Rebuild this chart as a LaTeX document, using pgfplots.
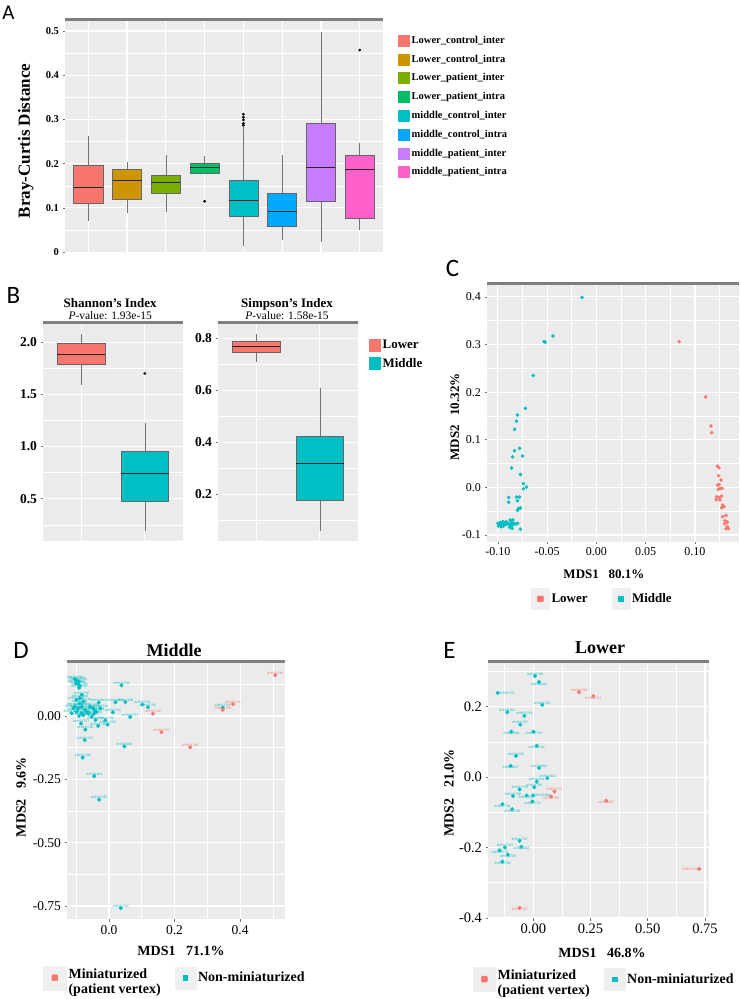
\documentclass[border=0pt]{standalone}
\usepackage{pgfplots}
\pgfplotsset{compat=1.18}
\usepgfplotslibrary{statistics}
\usepackage{fontspec}
\setmainfont{Liberation Serif}
\newfontfamily\panelfont{Carlito}
\newfontfamily\labfont{Liberation Sans}
\newcommand{\fs}[1]{\fontsize{#1}{#1}\selectfont}
\definecolor{panelgray}{HTML}{EBEBEB}
\definecolor{stripgray}{HTML}{7F7F7F}
\definecolor{keygray}{HTML}{EFEFEF}
\definecolor{c1}{HTML}{F8766D}
\definecolor{c2}{HTML}{CD9600}
\definecolor{c3}{HTML}{7CAE00}
\definecolor{c4}{HTML}{00BE67}
\definecolor{c5}{HTML}{00BFC4}
\definecolor{c6}{HTML}{00A9FF}
\definecolor{c7}{HTML}{C77CFF}
\definecolor{c8}{HTML}{FF61CC}
\definecolor{ggred}{HTML}{F8766D}
\definecolor{ggcyan}{HTML}{00BFC4}
\pgfplotsset{
  gg/.style={
    scale only axis,
    axis background/.style={fill=panelgray},
    grid=both,
    major grid style={white, line width=1.1pt},
    minor grid style={white, line width=0.55pt},
    axis line style={draw=none},
    tick align=outside,
    major tick length=2.5pt,
    minor tick length=0pt,
    tick style={black!55, line width=0.6pt},
    xtick pos=left, ytick pos=left,
    boxplot/draw direction=y,
    boxplot/box extend=0.75,
    boxplot/whisker extend=0,
    boxplot/every median/.style={black!85, line width=1pt},
    boxplot/every whisker/.style={black!55, line width=0.6pt},
    boxplot/every box/.style={draw=black!60, line width=0.6pt},
  },
  pts/.style={only marks, mark=*, mark size=#1},
  lab/.style={nodes near coords, point meta=explicit symbolic,
    every node near coord/.append style={font=\labfont\fs{3.3}, inner sep=0.6pt, text=#1}},
}
\begin{document}
\begin{tikzpicture}
\path[use as bounding box] (0pt,0pt) rectangle (740pt,-999pt);

% ---------------- Panel A ----------------
\begin{axis}[gg, name=A, at={(65pt,-21pt)}, anchor=north west, width=318pt, height=232pt,
  xmin=0.4, xmax=8.6, ymin=-0.002, ymax=0.5226,
  xtick={1,2,3,4,5,6,7,8}, xticklabels={}, xtick style={draw=none},
  ytick={0,0.1,0.2,0.3,0.4,0.5}, yticklabels={0,0.1,0.2,0.3,0.4,0.5},
  minor ytick={0.05,0.15,0.25,0.35,0.45},
  yticklabel style={font=\bfseries\fs{10.5}},
  ylabel={Bray-Curtis Distance},
  ylabel style={font=\bfseries\fs{17}, at={(axis description cs:-0.123,0.483)}, anchor=center},
  legend style={at={(1.038,0.953)}, anchor=north west, draw=none, fill=none,
    font=\bfseries\fs{10.5}, row sep=6pt, cells={anchor=west}},
  legend cell align=left,
]
\addplot[forget plot, fill=c1, draw=black!60, boxplot prepared={draw position=1, lower whisker=0.071, lower quartile=0.111, median=0.145, upper quartile=0.196, upper whisker=0.263}] coordinates {};
\addplot[forget plot, fill=c2, draw=black!60, boxplot prepared={draw position=2, lower whisker=0.089, lower quartile=0.120, median=0.162, upper quartile=0.188, upper whisker=0.204}] coordinates {};
\addplot[forget plot, fill=c3, draw=black!60, boxplot prepared={draw position=3, lower whisker=0.090, lower quartile=0.134, median=0.158, upper quartile=0.174, upper whisker=0.219}] coordinates {};
\addplot[forget plot, fill=c4, draw=black!60, mark=*, mark size=1.2pt, mark options={fill=black, draw=black}, boxplot prepared={draw position=4, lower whisker=0.179, lower quartile=0.179, median=0.192, upper quartile=0.200, upper whisker=0.217}] table[row sep=\\, y index=0] {0.115\\};
\addplot[forget plot, fill=c5, draw=black!60, mark=*, mark size=1.2pt, mark options={fill=black, draw=black}, boxplot prepared={draw position=5, lower whisker=0.013, lower quartile=0.080, median=0.117, upper quartile=0.162, upper whisker=0.283}] table[row sep=\\, y index=0] {0.287\\0.291\\0.299\\0.305\\0.312\\};
\addplot[forget plot, fill=c6, draw=black!60, boxplot prepared={draw position=6, lower whisker=0.028, lower quartile=0.059, median=0.092, upper quartile=0.134, upper whisker=0.220}] coordinates {};
\addplot[forget plot, fill=c7, draw=black!60, boxplot prepared={draw position=7, lower whisker=0.022, lower quartile=0.114, median=0.192, upper quartile=0.292, upper whisker=0.497}] coordinates {};
\addplot[forget plot, fill=c8, draw=black!60, mark=*, mark size=1.2pt, mark options={fill=black, draw=black}, boxplot prepared={draw position=8, lower whisker=0.051, lower quartile=0.077, median=0.186, upper quartile=0.220, upper whisker=0.247}] table[row sep=\\, y index=0] {0.457\\};
\addlegendimage{legend image code/.code={\fill[c1] (0pt,-5.5pt) rectangle (11pt,5.5pt);}}
\addlegendentry{Lower\_control\_inter}
\addlegendimage{legend image code/.code={\fill[c2] (0pt,-5.5pt) rectangle (11pt,5.5pt);}}
\addlegendentry{Lower\_control\_intra}
\addlegendimage{legend image code/.code={\fill[c3] (0pt,-5.5pt) rectangle (11pt,5.5pt);}}
\addlegendentry{Lower\_patient\_inter}
\addlegendimage{legend image code/.code={\fill[c4] (0pt,-5.5pt) rectangle (11pt,5.5pt);}}
\addlegendentry{Lower\_patient\_intra}
\addlegendimage{legend image code/.code={\fill[c5] (0pt,-5.5pt) rectangle (11pt,5.5pt);}}
\addlegendentry{middle\_control\_inter}
\addlegendimage{legend image code/.code={\fill[c6] (0pt,-5.5pt) rectangle (11pt,5.5pt);}}
\addlegendentry{middle\_control\_intra}
\addlegendimage{legend image code/.code={\fill[c7] (0pt,-5.5pt) rectangle (11pt,5.5pt);}}
\addlegendentry{middle\_patient\_inter}
\addlegendimage{legend image code/.code={\fill[c8] (0pt,-5.5pt) rectangle (11pt,5.5pt);}}
\addlegendentry{middle\_patient\_intra}
\end{axis}
\draw[stripgray, line width=3pt] ([yshift=1.5pt]A.north west) -- ([yshift=1.5pt]A.north east);

% ---------------- Panel B (Shannon) ----------------
\begin{axis}[gg, name=B1, at={(43pt,-324pt)}, anchor=north west, width=140pt, height=217pt,
  xmin=0.4, xmax=2.6, ymin=0.096, ymax=2.173,
  xtick={1,2}, xticklabels={}, xtick style={draw=none},
  ytick={0.5,1,1.5,2}, yticklabels={0.5,1.0,1.5,2.0},
  minor ytick={0.25,0.75,1.25,1.75},
  yticklabel style={font=\bfseries\fs{13.5}},
  title={{\bfseries\fontsize{13}{14}\selectfont Shannon\symbol{39}s Index}\\{\fontsize{11.5}{13}\selectfont\textit{P}-value: 1.93e-15}},
  title style={align=center, at={(axis description cs:0.48,1.069)}, anchor=center, yshift=-6pt},
]
\addplot[fill=ggred, draw=black!60, boxplot prepared={draw position=1, lower whisker=1.59, lower quartile=1.79, median=1.885, upper quartile=1.99, upper whisker=2.074}] coordinates {};
\addplot[fill=ggcyan, draw=black!60, mark=*, mark size=1.3pt, mark options={fill=black!85, draw=black!85}, boxplot prepared={draw position=2, lower whisker=0.195, lower quartile=0.48, median=0.74, upper quartile=0.95, upper whisker=1.228}] table[row sep=\\, y index=0] {1.70\\};
\end{axis}
\draw[stripgray, line width=3pt] ([yshift=1.5pt]B1.north west) -- ([yshift=1.5pt]B1.north east);

% ---------------- Panel B (Simpson) ----------------
\begin{axis}[gg, name=B2, at={(218pt,-324pt)}, anchor=north west, width=140pt, height=217pt,
  xmin=0.4, xmax=2.6, ymin=0.020, ymax=0.855,
  xtick={1,2}, xticklabels={}, xtick style={draw=none},
  ytick={0.2,0.4,0.6,0.8}, yticklabels={0.2,0.4,0.6,0.8},
  minor ytick={0.1,0.3,0.5,0.7},
  yticklabel style={font=\bfseries\fs{13.5}},
  title={{\bfseries\fontsize{13}{14}\selectfont Simpson\symbol{39}s Index}\\{\fontsize{11.5}{13}\selectfont\textit{P}-value: 1.58e-15}},
  title style={align=center, at={(axis description cs:0.493,1.069)}, anchor=center, yshift=-6pt},
  legend style={at={(1.057,0.945)}, anchor=north west, draw=none, fill=none,
    font=\bfseries\fs{13}, row sep=4pt, cells={anchor=west}},
  legend cell align=left,
]
\addplot[forget plot, fill=ggred, draw=black!60, boxplot prepared={draw position=1, lower whisker=0.710, lower quartile=0.745, median=0.770, upper quartile=0.787, upper whisker=0.815}] coordinates {};
\addplot[forget plot, fill=ggcyan, draw=black!60, boxplot prepared={draw position=2, lower whisker=0.06, lower quartile=0.178, median=0.319, upper quartile=0.424, upper whisker=0.609}] coordinates {};
\addlegendimage{legend image code/.code={\fill[ggred] (0pt,-6pt) rectangle (11pt,6pt);}}
\addlegendentry{Lower}
\addlegendimage{legend image code/.code={\fill[ggcyan] (0pt,-6pt) rectangle (11pt,6pt);}}
\addlegendentry{Middle}
\end{axis}
\draw[stripgray, line width=3pt] ([yshift=1.5pt]B2.north west) -- ([yshift=1.5pt]B2.north east);

% ---------------- Panel C ----------------
\begin{axis}[gg, name=C, at={(487pt,-285pt)}, anchor=north west, width=252pt, height=256.7pt,
  xmin=-0.111, xmax=0.1447, ymin=-0.114, ymax=0.425,
  xtick={-0.1,-0.05,0,0.05,0.1}, xticklabels={-0.10,-0.05,0.00,0.05,0.10},
  minor xtick={-0.075,-0.025,0.025,0.075,0.125},
  ytick={-0.1,0,0.1,0.2,0.3,0.4}, yticklabels={-0.1,0.0,0.1,0.2,0.3,0.4},
  minor ytick={-0.05,0.05,0.15,0.25,0.35},
  ticklabel style={font=\fs{12}},
  xlabel={MDS1~~~80.1\%}, ylabel={MDS2~~~10.32\%},
  xlabel style={font=\bfseries\fs{13}, at={(axis description cs:0.464,-0.126)}, anchor=center},
  ylabel style={font=\bfseries\fs{13}, at={(axis description cs:-0.127,0.486)}, anchor=center},
  legend columns=2,
  legend style={at={(0.458,-0.223)}, anchor=center, draw=none, fill=none,
    font=\bfseries\fs{13}, /tikz/every even column/.append style={column sep=22pt}},
]
\addplot[forget plot, pts=1.6pt, ggcyan] coordinates {
(-0.0146,0.399) (-0.044,0.318) (-0.053,0.306) (-0.052,0.305) (-0.064,0.235)
(-0.072,0.166) (-0.080,0.152) (-0.081,0.139) (-0.083,0.122) (-0.083,0.077)
(-0.078,0.082) (-0.085,0.064) (-0.075,0.066) (-0.086,0.041) (-0.077,0.027)
(-0.074,0.008) (-0.071,0.001) (-0.074,-0.003) (-0.089,-0.021) (-0.089,-0.031)
(-0.081,-0.020) (-0.078,-0.020) (-0.080,-0.028) (-0.079,-0.044) (-0.077,-0.043)
(-0.080,-0.048) (-0.077,-0.088)
(-0.100,-0.0755) (-0.098,-0.079) (-0.0976,-0.0734) (-0.0956,-0.0769) (-0.0942,-0.0811)
(-0.0932,-0.0741) (-0.0915,-0.0776) (-0.0966,-0.0825) (-0.0993,-0.0811) (-0.0898,-0.0755)
(-0.0881,-0.079) (-0.0864,-0.0741) (-0.0854,-0.0797) (-0.0841,-0.0755) (-0.082,-0.0769)
(-0.0881,-0.0839) (-0.0854,-0.086) (-0.0915,-0.072) (-0.0949,-0.072) (-0.080,-0.0755)
(-0.0847,-0.0685) (-0.0875,-0.0685)
};
\addplot[forget plot, pts=1.6pt, ggred] coordinates {
(0.084,0.306) (0.111,0.190) (0.1163,0.129) (0.117,0.115) (0.1227,0.0448)
(0.1244,0.0413) (0.124,0.0245) (0.1264,0.0154) (0.1244,0.0063) (0.123,0.0049)
(0.1254,-0.0021) (0.1275,-0.0021) (0.1237,-0.0042) (0.122,-0.0196) (0.1247,-0.021)
(0.1271,-0.0182) (0.1217,-0.0259) (0.1254,-0.0266) (0.1281,-0.0371) (0.1295,-0.0406)
(0.1271,-0.0427) (0.1281,-0.0615) (0.1315,-0.0587) (0.1305,-0.0699) (0.1329,-0.0727)
(0.1302,-0.0762) (0.1329,-0.0825) (0.1315,-0.0867) (0.1339,-0.0867)
};
\addlegendimage{legend image code/.code={\fill[keygray] (0pt,-10.5pt) rectangle (18pt,10.5pt); \fill[ggred, rounded corners=0.8pt] (6pt,-3pt) rectangle (12pt,3pt);}}
\addlegendentry{Lower}
\addlegendimage{legend image code/.code={\fill[keygray] (0pt,-10.5pt) rectangle (18pt,10.5pt); \fill[ggcyan] (6.5pt,-2.5pt) rectangle (11.5pt,2.5pt);}}
\addlegendentry{Middle}
\end{axis}
\draw[stripgray, line width=3pt] ([yshift=1.5pt]C.north west) -- ([yshift=1.5pt]C.north east);

% ---------------- Panel D ----------------
\begin{axis}[gg, name=D, at={(67pt,-663pt)}, anchor=north west, width=218pt, height=256.3pt,
  xmin=-0.128, xmax=0.537, ymin=-0.8025, ymax=0.209,
  xtick={0,0.2,0.4}, xticklabels={0.0,0.2,0.4},
  minor xtick={-0.1,0.1,0.3,0.5},
  ytick={-0.75,-0.5,-0.25,0}, yticklabels={-0.75,-0.50,-0.25,0.00},
  minor ytick={-0.625,-0.375,-0.125,0.125},
  ticklabel style={font=\fs{13.5}},
  title={Middle}, title style={font=\bfseries\fs{18}, at={(axis description cs:0.491,1.051)}, anchor=center, yshift=-6pt},
  xlabel={MDS1~~~71.1\%}, ylabel={MDS2~~~9.6\%},
  xlabel style={font=\bfseries\fs{14}, at={(axis description cs:0.523,-0.124)}, anchor=center},
  ylabel style={font=\bfseries\fs{14}, at={(axis description cs:-0.211,0.477)}, anchor=center},
  legend columns=2,
  legend style={at={(0.495,-0.228)}, anchor=center, draw=none, fill=none,
    font=\bfseries\fontsize{14}{15}\selectfont, /tikz/every even column/.append style={column sep=12pt}},
]
\addplot[forget plot, pts=1.8pt, ggcyan, lab=ggcyan, every node near coord/.append style={anchor=south}] table[meta=l] {
x y l
0.347 0.033 AHH21755
0.038 0.121 AHH21783
0.036 -0.758 AHH21794
-0.030 -0.330 AHH21785
-0.045 -0.238 AHH21801
-0.080 -0.164 AHH21788
-0.074 -0.095 AHH21733
0.047 -0.120 AHH21800
0.065 -0.004 AHH21722
0.102 0.045 AHH21751
0.119 0.034 AHH21758
0.050 0.055 AHH21806
0.020 0.054 AHH21804
0.012 0.014 AHH21752
-0.004 -0.034 AHH21753
-0.011 -0.017 AHH21729
-0.033 -0.039 AHH21736
-0.031 0.053 AHH21813
-0.027 0.029 AHH21745
-0.072 -0.054 AHH21792
-0.085 -0.030 AHH21757
-0.104 0.145 AHH21701
-0.097 0.139 AHH21702
-0.091 0.136 AHH21703
-0.101 0.129 AHH21704
-0.094 0.126 AHH21705
-0.089 0.118 AHH21706
-0.091 0.111 AHH21750
-0.083 0.083 AHH21707
-0.089 0.070 AHH21708
-0.099 0.063 AHH21709
-0.078 0.057 AHH21710
-0.089 0.050 AHH21711
-0.083 0.037 AHH21712
-0.104 0.037 AHH21713
-0.094 0.030 AHH21714
-0.099 0.017 AHH21715
-0.073 0.024 AHH21716
-0.068 0.017 AHH21717
-0.083 0.011 AHH21718
-0.063 0.008 AHH21719
-0.058 0.037 AHH21720
-0.048 0.030 AHH21721
-0.043 0.021 AHH21723
-0.038 0.017 AHH21724
-0.109 0.030 AHH21725
-0.114 0.011 AHH21726
-0.091 0.000 AHH21727
-0.078 0.003 AHH21728
-0.053 -0.003 AHH21731
-0.041 -0.016 AHH21732
-0.046 0.008 AHH21734
};
\addplot[forget plot, pts=1.8pt, ggred, lab=ggred, every node near coord/.append style={anchor=south}] table[meta=l] {
x y l
0.507 0.161 AHH21780
0.378 0.047 AHH21741
0.347 0.024 AHH21759
0.134 0.009 AHH21746
0.160 -0.064 AHH21767
0.248 -0.124 AHH21730
};
\addlegendimage{legend image code/.code={\fill[keygray] (0pt,-12pt) rectangle (23pt,12pt); \fill[ggred, rounded corners=1pt] (8.5pt,-3pt) rectangle (14.5pt,3pt);}}
\addlegendentry{\begin{tabular}{@{}l@{}}Miniaturized\\(patient vertex)\end{tabular}}
\addlegendimage{legend image code/.code={\fill[keygray] (0pt,-11pt) rectangle (21pt,11pt); \fill[ggcyan] (8.25pt,-2.25pt) rectangle (12.75pt,2.25pt);}}
\addlegendentry{Non-miniaturized}
\end{axis}
\draw[stripgray, line width=3pt] ([yshift=1.5pt]D.north west) -- ([yshift=1.5pt]D.north east);

% ---------------- Panel E ----------------
\begin{axis}[gg, name=E, at={(488pt,-663pt)}, anchor=north west, width=221pt, height=255.3pt,
  xmin=-0.198, xmax=0.7675, ymin=-0.401, ymax=0.324,
  xtick={0,0.25,0.5,0.75}, xticklabels={0.00,0.25,0.50,0.75},
  minor xtick={-0.125,0.125,0.375,0.625},
  ytick={-0.4,-0.2,0,0.2}, yticklabels={-0.4,-0.2,0.0,0.2},
  minor ytick={-0.3,-0.1,0.1,0.3},
  ticklabel style={font=\fs{14.5}},
  title={Lower}, title style={font=\bfseries\fs{18}, at={(axis description cs:0.507,1.059)}, anchor=center, yshift=-6pt},
  xlabel={MDS1~~~46.8\%}, ylabel={MDS2~~~21.0\%},
  xlabel style={font=\bfseries\fs{14}, at={(axis description cs:0.516,-0.136)}, anchor=center},
  ylabel style={font=\bfseries\fs{14}, at={(axis description cs:-0.176,0.491)}, anchor=center},
  legend columns=2,
  legend style={at={(0.527,-0.238)}, anchor=center, draw=none, fill=none,
    font=\bfseries\fontsize{14}{15}\selectfont, /tikz/every even column/.append style={column sep=12pt}},
]
\addplot[forget plot, pts=1.8pt, ggcyan, lab=ggcyan, every node near coord/.append style={anchor=south}] table[meta=l] {
x y l
0.007 0.287 AHH21748
0.039 0.205 AHH21749
-0.114 0.184 AHH21822
-0.039 0.174 AHH21750
-0.057 0.149 AHH21787
-0.076 0.060 AHH21752
0.025 0.026 AHH21808
0.061 -0.003 AHH21810
0.015 -0.013 AHH21811
0.004 -0.029 AHH21780
-0.089 -0.054 AHH21798
-0.060 -0.035 AHH21739
-0.060 -0.181 AHH21737
-0.124 -0.200 AHH21763
};
\addplot[forget plot, pts=1.8pt, ggcyan, lab=ggcyan, every node near coord/.append style={anchor=north}] table[meta=l] {
x y l
0.025 0.270 AHH21820
-0.096 0.129 AHH21800
0.001 0.129 AHH21758
0.015 0.089 AHH21784
-0.099 0.032 AHH21827
-0.135 -0.077 AHH21754
-0.092 -0.091 AHH21786
-0.052 -0.198 AHH21803
-0.147 -0.208 AHH21775
-0.111 -0.220 AHH21785
-0.135 -0.240 AHH21790
-0.004 -0.069 AHH21773
-0.029 -0.052 AHH21815
};
\addplot[forget plot, pts=1.8pt, ggcyan, lab=ggcyan, every node near coord/.append style={anchor=west}] table[meta=l] {
x y l
-0.156 0.239 AHH21776
-0.001 -0.052 AHH21888
};
\addplot[forget plot, pts=1.8pt, ggred, lab=ggred, every node near coord/.append style={anchor=south}] table[meta=l] {
x y l
0.1995 0.241 AHH21799
0.092 -0.041 AHH21772
};
\addplot[forget plot, pts=1.8pt, ggred, lab=ggred, every node near coord/.append style={anchor=north}] table[meta=l] {
x y l
0.262 0.230 AHH21751
0.077 -0.055 AHH21755
0.319 -0.067 AHH21807
-0.060 -0.371 AHH21767
};
\addplot[forget plot, pts=1.8pt, ggred, lab=ggred, every node near coord/.append style={anchor=east}] table[meta=l] {
x y l
0.725 -0.261 AHH21756
};
\addlegendimage{legend image code/.code={\fill[keygray] (0pt,-12pt) rectangle (22pt,12pt); \fill[ggred, rounded corners=1pt] (8pt,-3pt) rectangle (14pt,3pt);}}
\addlegendentry{\begin{tabular}{@{}l@{}}Miniaturized\\(patient vertex)\end{tabular}}
\addlegendimage{legend image code/.code={\fill[keygray] (0pt,-11pt) rectangle (21pt,11pt); \fill[ggcyan] (8.25pt,-2.25pt) rectangle (12.75pt,2.25pt);}}
\addlegendentry{Non-miniaturized}
\end{axis}
\draw[stripgray, line width=3pt] ([yshift=1.5pt]E.north west) -- ([yshift=1.5pt]E.north east);

% panel letters
\node[font=\panelfont\fs{21}] at (8.5pt,-13pt) {A};
\node[font=\panelfont\fs{25}] at (13.5pt,-295pt) {B};
\node[font=\panelfont\fs{25}] at (452.5pt,-268pt) {C};
\node[font=\panelfont\fs{25}] at (21pt,-650pt) {D};
\node[font=\panelfont\fs{25}] at (449.5pt,-650pt) {E};
\end{tikzpicture}
\end{document}
